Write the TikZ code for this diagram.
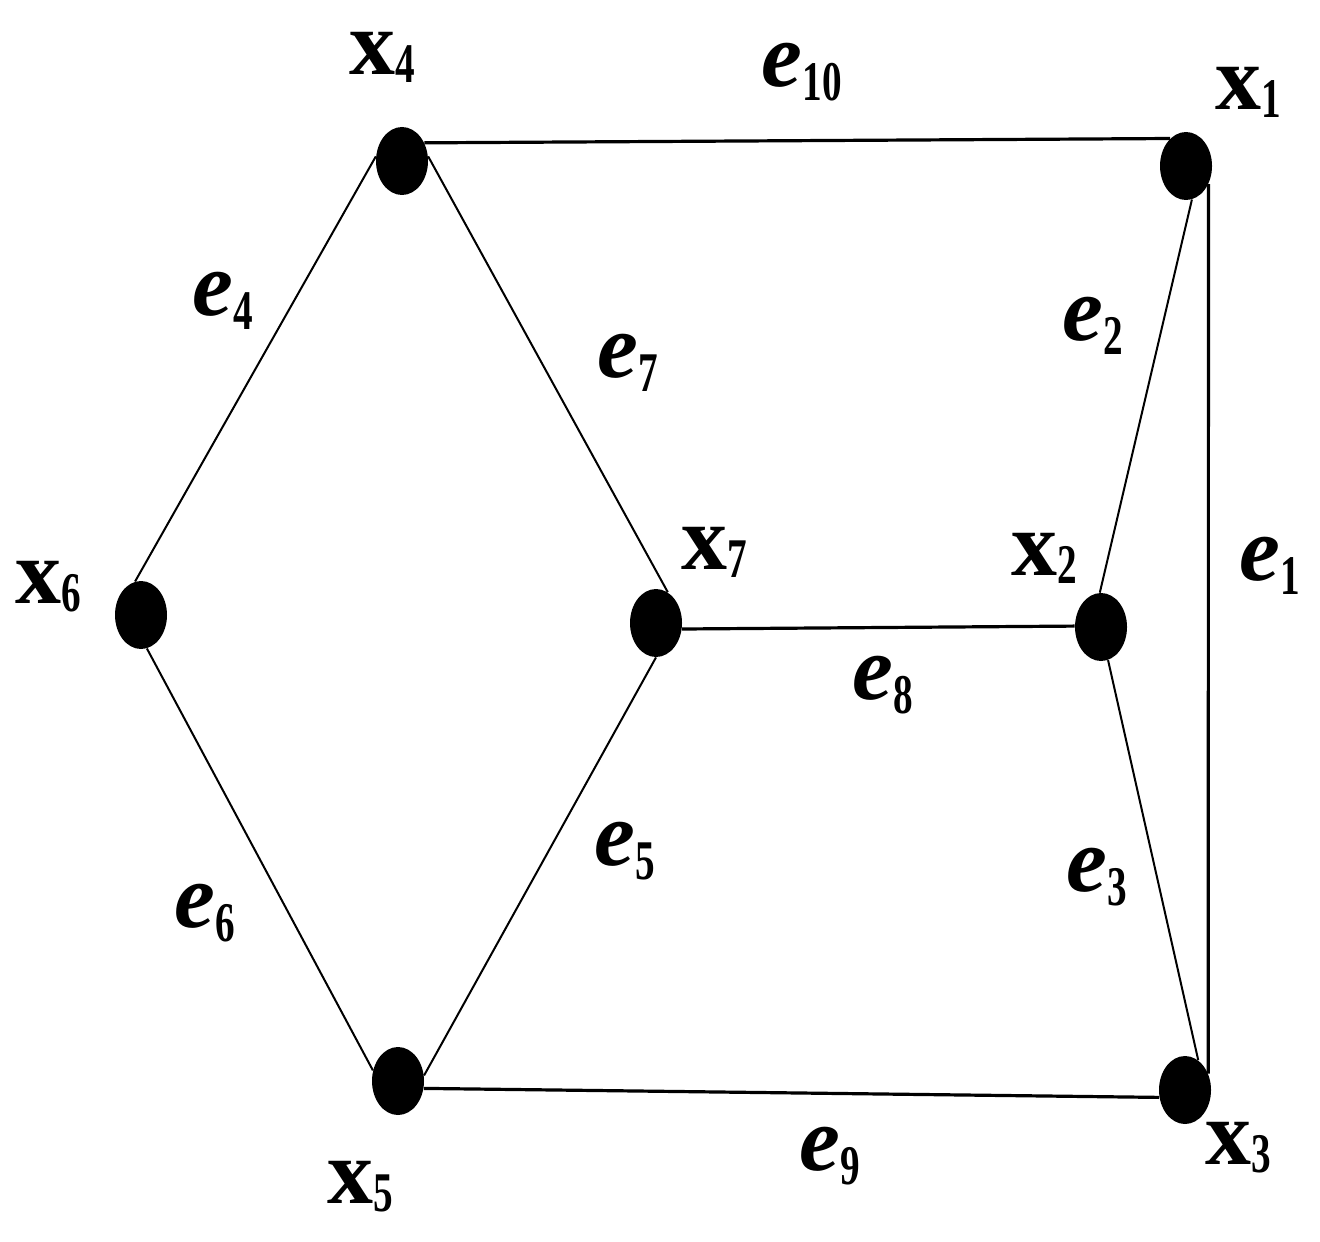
\documentclass[tikz,border=0pt]{standalone}
\usepackage{fontspec}
\usepackage{graphicx}
\setmainfont{Liberation Serif}
\usetikzlibrary{shapes.geometric}
\newcommand{\vlab}[1]{{\fontsize{46}{46}\selectfont\bfseries x}\raisebox{-4pt}{\scalebox{0.7}[1]{\fontsize{28}{28}\selectfont\bfseries #1}}}
\newcommand{\elab}[1]{{\fontsize{46}{46}\selectfont\bfseries\itshape e}\raisebox{-7pt}{\scalebox{0.7}[1]{\fontsize{28}{28}\selectfont\bfseries #1}}}
\tikzset{
  vdot/.style={ellipse,fill=black,draw=none,minimum width=26pt,minimum height=34pt,inner sep=0pt},
  lab/.style={inner sep=0pt,text=black},
  hedge/.style={line width=1.6pt,black},
  dedge/.style={line width=1pt,black}
}
\begin{document}
\begin{tikzpicture}[x=0.5pt,y=-0.5pt]
\useasboundingbox (0,0) rectangle (1320,1241);
% vertices
\node[vdot] (x4) at (402,161) {};
\node[vdot] (x1) at (1186,166) {};
\node[vdot] (x6) at (141,615) {};
\node[vdot] (x7) at (656,623) {};
\node[vdot] (x2) at (1101,627) {};
\node[vdot] (x5) at (398,1081) {};
\node[vdot] (x3) at (1185,1090) {};
% edges
\draw[hedge] (x4.39) -- (x1.120);
\draw[hedge] (x1.-39) -- (x3.35);
\draw[dedge] (x1.-80) -- (x2.92);
\draw[dedge] (x2.-78) -- (x3.66);
\draw[dedge] (x4.170) -- (x6.100);
\draw[dedge] (x4.10) -- (x7.69);
\draw[dedge] (x6.-80) -- (x5.157);
\draw[dedge] (x7.-90) -- (x5.12);
\draw[hedge] (x7.-13) -- (x2.178);
\draw[hedge] (x5.-16) -- (x3.-164);
% vertex labels
\node[lab] (lx4) at (382,57) {\vlab{4}};
\node[lab] (lx1) at (1248,92) {\vlab{1}};
\node[lab] (lx3) at (1238,1148) {\vlab{3}};
\node[lab] (lx7) at (714,552) {\vlab{7}};
\node[lab] (lx2) at (1044,558) {\vlab{2}};
\node[lab] (lx6) at (48,587) {\vlab{6}};
\node[lab] (lx5) at (360,1187) {\vlab{5}};
% edge labels
\node[lab] (le10) at (802,72) {\elab{10}};
\node[lab] (le4) at (223,301) {\elab{4}};
\node[lab] (le1) at (1270,566) {\elab{1}};
\node[lab] (le9) at (830,1156) {\elab{9}};
\node[lab] (le8) at (883,685) {\elab{8}};
\node[lab] (le2) at (1093,326) {\elab{2}};
\node[lab] (le7) at (628,363) {\elab{7}};
\node[lab] (le5) at (625,851) {\elab{5}};
\node[lab] (le6) at (205,913) {\elab{6}};
\node[lab] (le3) at (1097,877) {\elab{3}};
\end{tikzpicture}
\end{document}
